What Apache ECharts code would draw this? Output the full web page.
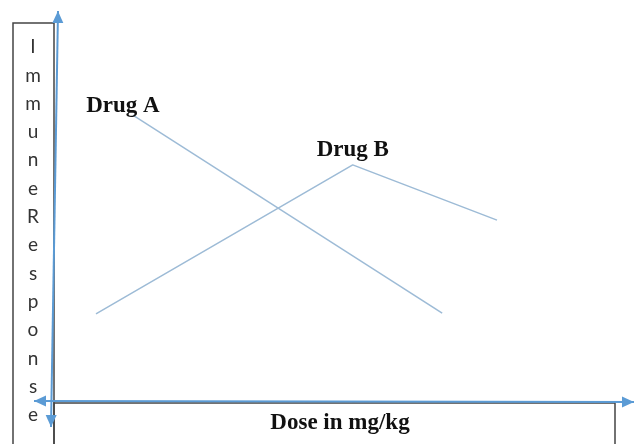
<!DOCTYPE html>
<html>
<head>
<meta charset="utf-8">
<script src="https://cdn.jsdelivr.net/npm/echarts@6/dist/echarts.min.js"></script>
<style>
  html, body { margin: 0; padding: 0; background: #fff; }
  #chart { width: 634px; height: 444px; }
</style>
</head>
<body>
<div id="chart"></div>
<script>
// dose (0-100) vs immune response (0-100)
let drugA = [[13.5, 73.5], [67.1, 22.6]]
let drugB = [[7.1, 22.4], [51.6, 60.7], [76.6, 46.5]]
let seriesNames = ['Drug A', 'Drug B']
let labelIndex = [0, 1] // which point carries the name
let yTitle = 'ImmuneResponse'
let xTitle = 'Dose in mg/kg'

const AXIS_BLUE = '#5b9bd5'
const LINE_BLUE = '#9dbbd6'
const BOX = '#444'

// line with arrowheads at both ends
function arrow (x1, y1, x2, y2) {
  let ang = Math.atan2(y2 - y1, x2 - x1)
  let head = (x, y, a) => {
    let len = 12, w = 5.5
    let bx = x - Math.cos(a) * len, by = y - Math.sin(a) * len
    return {
      type: 'polygon',
      shape: { points: [[x, y], [bx - Math.sin(a) * w, by + Math.cos(a) * w], [bx + Math.sin(a) * w, by - Math.cos(a) * w]] },
      style: { fill: AXIS_BLUE }
    }
  }
  return [
    { type: 'line', shape: { x1, y1, x2, y2 }, style: { stroke: AXIS_BLUE, lineWidth: 2 } },
    head(x2, y2, ang),
    head(x1, y1, ang + Math.PI)
  ]
}

function withLabel (data, idx, name, offset) {
  return data.map((p, i) => i !== idx ? p : {
    value: p,
    label: {
      show: true,
      formatter: name,
      position: 'top',
      offset: offset,
      fontFamily: '"Liberation Serif", "Times New Roman", serif',
      fontWeight: 'bold',
      fontSize: 23,
      color: '#111'
    }
  })
}

let chart = echarts.init(document.getElementById('chart'))
chart.setOption({
  animation: false,
  grid: { left: 55, right: 2, top: 12, bottom: 43 },
  xAxis: { type: 'value', min: 0, max: 100, show: false },
  yAxis: { type: 'value', min: 0, max: 100, show: false },
  graphic: [
    {
      type: 'rect', z: 1,
      shape: { x: 13, y: 23, width: 41, height: 430 },
      style: { fill: 'none', stroke: BOX, lineWidth: 1.5 }
    },
    {
      type: 'rect', z: 1,
      shape: { x: 54, y: 403, width: 561, height: 50 },
      style: { fill: 'none', stroke: BOX, lineWidth: 1.5 }
    },
    {
      type: 'text', z: 2, x: 33, y: 33,
      style: {
        text: yTitle.split('').join('\n'),
        align: 'center',
        verticalAlign: 'top',
        lineHeight: 28.3,
        font: '19px Lato, "Open Sans", sans-serif',
        fill: '#333'
      }
    },
    {
      type: 'text', z: 2, x: 340, y: 423,
      style: {
        text: xTitle,
        align: 'center',
        verticalAlign: 'middle',
        font: 'bold 23px "Liberation Serif", "Times New Roman", serif',
        fill: '#111'
      }
    },
    ...arrow(58, 11, 51, 427).map(e => Object.assign(e, { z: 3 })),
    ...arrow(34, 401, 634, 402).map(e => Object.assign(e, { z: 3 }))
  ],
  series: [
    {
      name: seriesNames[0],
      type: 'line',
      data: withLabel(drugA, labelIndex[0], seriesNames[0], [-10, 7]),
      symbolSize: 0,
      lineStyle: { color: LINE_BLUE, width: 1.5 },
      itemStyle: { color: LINE_BLUE }
    },
    {
      name: seriesNames[1],
      type: 'line',
      data: withLabel(drugB, labelIndex[1], seriesNames[1], [0, 2]),
      symbolSize: 0,
      lineStyle: { color: LINE_BLUE, width: 1.5 },
      itemStyle: { color: LINE_BLUE }
    }
  ]
})
</script>
</body>
</html>
